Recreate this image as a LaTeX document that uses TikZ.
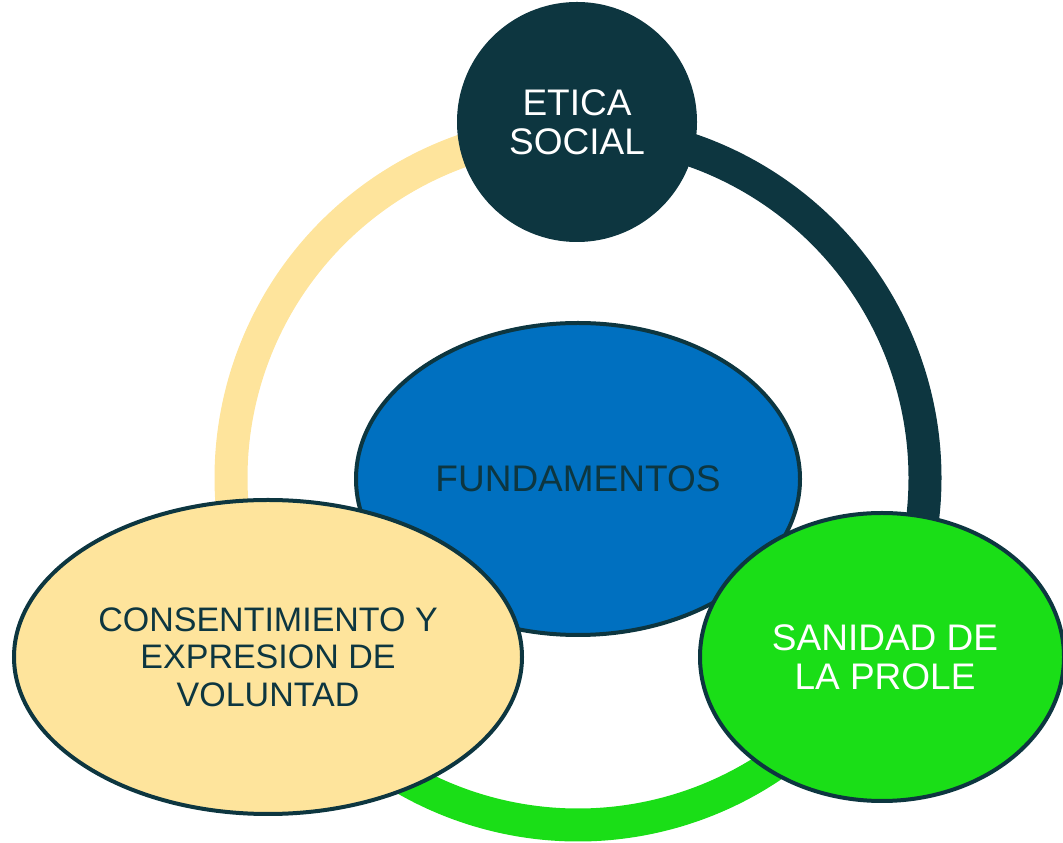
\documentclass[tikz,border=0pt]{standalone}
\usepackage{fontspec}
\setmainfont{Liberation Sans}
\usetikzlibrary{shapes.geometric}
\definecolor{darkteal}{RGB}{13,54,64}
\definecolor{fundblue}{RGB}{0,112,192}
\definecolor{prolegreen}{RGB}{26,222,23}
\definecolor{consyellow}{RGB}{254,228,156}
\begin{document}
\begin{tikzpicture}[x=1pt,y=1pt,
  ringseg/.style={line width=33pt},
  bubble/.style={ellipse, draw=darkteal, line width=4pt, inner sep=0pt, align=center},
  bigtext/.style={font=\fontsize{37}{39}\selectfont},
]
\useasboundingbox (0,0) rectangle (1063,843);
\coordinate (ringc) at (578,365);
% ring segments
\draw[ringseg, consyellow] ([shift={(100:347)}]ringc) arc[start angle=100, end angle=200, radius=347];
\draw[ringseg, prolegreen] ([shift={(220:347)}]ringc) arc[start angle=220, end angle=320, radius=347];
\draw[ringseg, darkteal] ([shift={(-15:347)}]ringc) arc[start angle=-15, end angle=80, radius=347];
% nodes
\node[bubble, fill=fundblue, minimum width=444pt, minimum height=312pt, text=darkteal, bigtext] (fund) at (578,364) {FUNDAMENTOS};
\node[circle, fill=darkteal, minimum size=240pt, inner sep=0pt, align=center, text=white, bigtext] (etica) at (577,721) {ETICA\\SOCIAL};
\node[bubble, fill=consyellow, minimum width=508pt, minimum height=314pt, text=darkteal, font=\fontsize{34}{37.5}\selectfont] (cons) at (268,186) {CONSENTIMIENTO Y\\EXPRESION DE\\VOLUNTAD};
\node[bubble, fill=prolegreen, minimum width=364pt, minimum height=288pt, text=white, bigtext] (prole) at (882,186) {};
\node[text=white, align=center, bigtext] (proletext) at ([xshift=3pt]prole.center) {SANIDAD DE\\LA PROLE};
\end{tikzpicture}
\end{document}
